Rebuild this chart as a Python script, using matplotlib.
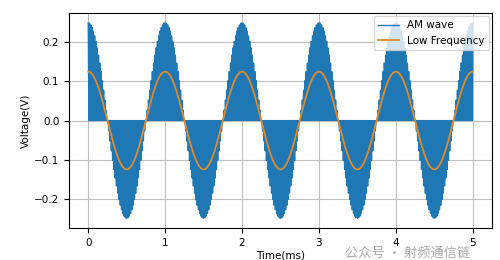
import numpy as np
import matplotlib
matplotlib.use("Agg")
import matplotlib.pyplot as plt

# signal parameters
t_start, t_end = 0.0, 5.0     # ms
msg_amp = 0.125               # V, low frequency amplitude
msg_freq = 1.0                # kHz
carrier_freq = 60.0           # kHz
n_samples = 20000
legend_labels = ["AM wave", "Low Frequency"]
watermark = "公众号 · 射频通信链"

t = np.linspace(t_start, t_end, n_samples)
low = msg_amp * np.cos(2 * np.pi * msg_freq * t)
am = low * (1 + np.cos(2 * np.pi * carrier_freq * t))

plt.rcParams["font.size"] = 7.5
fig = plt.figure(figsize=(5, 2.6), dpi=100)
ax = fig.add_axes([0.138, 0.123, 0.846, 0.827])

ax.plot(t, am, color="#1f77b4", lw=1.0, label=legend_labels[0])
ax.plot(t, low, color="#e08a2e", lw=1.3, label=legend_labels[1])

ax.set_xlabel("Time(ms)", labelpad=2)
ax.set_ylabel("Voltage(V)", labelpad=2)
ax.set_yticks([-0.2, -0.1, 0.0, 0.1, 0.2])
ax.grid(True, color="#c0c0c0", lw=0.8)
ax.legend(loc="upper right", fontsize=7.5, borderaxespad=0.3)

# watermark, kept just below the tick labels
fig.text(0.69, 0.025, watermark, fontsize=9.5, color="#999999", alpha=0.85,
         family=["Noto Sans CJK SC", "DejaVu Sans"], va="center")

fig.savefig("out.png", dpi=100)
